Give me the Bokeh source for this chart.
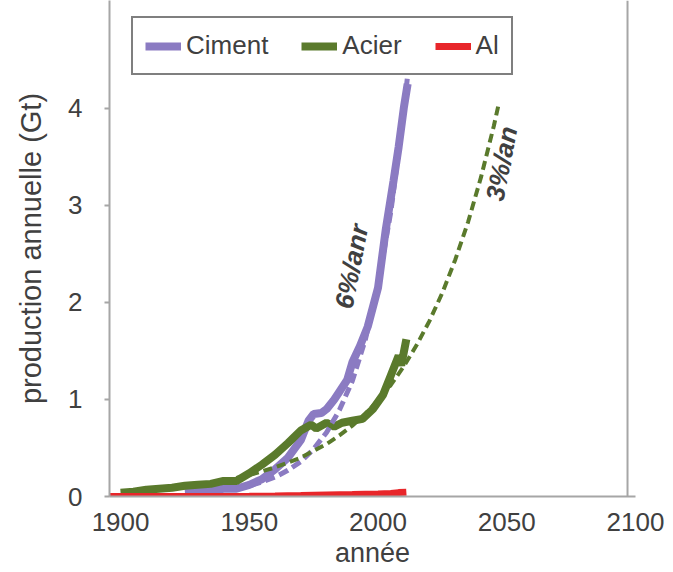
from bokeh.plotting import figure
from bokeh.models import Legend, LegendItem, Span, Range1d, FixedTicker
from bokeh.embed import file_html
from bokeh.resources import INLINE
from bokeh.core.properties import value

# ---- data ----
ciment_years = [1925, 1930, 1935, 1940, 1945, 1950, 1955, 1960, 1965, 1970, 1973, 1975, 1978,
                1980, 1983, 1985, 1988, 1990, 1993, 1996, 2000, 2003, 2006, 2008, 2010, 2011.5]
ciment_vals = [0.04, 0.05, 0.06, 0.08, 0.08, 0.12, 0.18, 0.28, 0.40, 0.58, 0.78, 0.85, 0.86,
               0.90, 1.00, 1.08, 1.20, 1.38, 1.55, 1.75, 2.15, 2.75, 3.25, 3.60, 4.00, 4.25]

acier_years = [1900, 1905, 1910, 1915, 1920, 1925, 1930, 1935, 1940, 1945, 1950, 1955, 1960,
               1965, 1970, 1974, 1976, 1980, 1983, 1986, 1990, 1994, 1998, 2002, 2005, 2008,
               2009, 2011]
acier_vals = [0.04, 0.05, 0.07, 0.08, 0.09, 0.11, 0.12, 0.13, 0.16, 0.16, 0.24, 0.33, 0.43,
              0.55, 0.68, 0.74, 0.70, 0.76, 0.72, 0.76, 0.78, 0.80, 0.90, 1.05, 1.25, 1.45,
              1.35, 1.62]

al_years = [1895, 1950, 1960, 1970, 1980, 1990, 2000, 2005, 2008, 2011]
al_vals = [0.0, 0.002, 0.005, 0.01, 0.016, 0.02, 0.025, 0.03, 0.04, 0.045]

# trend lines (dashed): 6%/an for cement, 3%/an for steel
trend6_years = [1945, 1950, 1955, 1960, 1965, 1970, 1975, 1980, 1985, 1990, 1995, 2000, 2005, 2010, 2012]
trend6_vals = [0.08, 0.11, 0.15, 0.20, 0.27, 0.36, 0.49, 0.66, 0.89, 1.19, 1.61, 2.18, 2.94, 3.96, 4.47]

trend3_years = [1945, 1950, 1955, 1960, 1965, 1970, 1975, 1980, 1985, 1990, 1995, 2000, 2005,
                2010, 2015, 2020, 2025, 2030, 2035, 2040, 2045, 2047]
trend3_vals = [0.19, 0.22, 0.26, 0.30, 0.35, 0.40, 0.47, 0.54, 0.63, 0.73, 0.85, 0.99, 1.15,
               1.34, 1.56, 1.81, 2.10, 2.44, 2.83, 3.29, 3.82, 4.06]

x_ticks = [1900, 1950, 2000, 2050, 2100]
y_ticks = [0, 1, 2, 3, 4]

# annotation texts and their anchor (year, value)
notes = ["6%/anr", "3%/an"]
note_x = [1989.7, 2048.0]
note_y = [2.37, 3.43]

PURPLE = "#8b7bc2"
GREEN = "#5a7a2c"
RED = "#e8262a"
TXT = "#404040"
AXC = "#a6a6a6"
FONT = "Liberation Sans"

p = figure(width=673, height=572, output_backend="svg", toolbar_location=None,
           x_range=Range1d(1895.7, 2100), y_range=Range1d(0, 5.11),
           min_border_left=109, min_border_right=38, min_border_top=0, min_border_bottom=76,
           background_fill_color="white", border_fill_color="white")
p.outline_line_color = None
p.grid.visible = False

r_c = p.line(ciment_years, ciment_vals, line_color=PURPLE, line_width=8)
r_a = p.line(acier_years, acier_vals, line_color=GREEN, line_width=8)
r_al = p.line(al_years, al_vals, line_color=RED, line_width=7)
p.line(trend6_years, trend6_vals, line_color=PURPLE, line_width=5, line_dash="10 5")
p.line(trend3_years, trend3_vals, line_color=GREEN, line_width=4, line_dash="9 5")

p.text(note_x, note_y, text=notes, angle=79, angle_units="deg",
       text_font=value(FONT), text_font_size="26px", text_font_style="bold italic",
       text_color=TXT, text_align="center", text_baseline="middle")

# right border of the plot area
p.add_layout(Span(location=2096.9, dimension="height", line_color=AXC, line_width=2))

for ax in (p.xaxis[0], p.yaxis[0]):
    ax.axis_line_color = AXC
    ax.axis_line_width = 2
    ax.major_label_text_font = FONT
    ax.major_label_text_font_size = "26px"
    ax.major_label_text_color = TXT
    ax.axis_label_text_font = FONT
    ax.axis_label_text_font_size = "27px"
    ax.axis_label_text_color = TXT
    ax.axis_label_text_font_style = "normal"
    ax.minor_tick_line_color = None
    ax.major_tick_line_color = AXC
    ax.major_tick_line_width = 2

p.yaxis.axis_label_text_font_size = "29px"
p.xaxis.ticker = FixedTicker(ticks=x_ticks)
p.yaxis.ticker = FixedTicker(ticks=y_ticks)
p.xaxis.axis_label = "année"
p.yaxis.axis_label = "production annuelle (Gt)"
p.xaxis.major_tick_out = 0
p.xaxis.major_tick_in = 0
p.xaxis.major_label_standoff = 16
p.xaxis.axis_label_standoff = 4
p.yaxis.major_tick_out = 5
p.yaxis.major_tick_in = 0
p.yaxis.major_label_standoff = 22
p.yaxis.axis_label_standoff = 18

legend = Legend(items=[LegendItem(label="Ciment", renderers=[r_c]),
                       LegendItem(label="Acier", renderers=[r_a]),
                       LegendItem(label="Al", renderers=[r_al])],
                orientation="horizontal", location=(22, 421),
                label_text_font=FONT, label_text_font_size="26px", label_text_color=TXT,
                glyph_width=36, glyph_height=30, label_standoff=5, spacing=33,
                padding=12, margin=0,
                border_line_color="black", border_line_width=2,
                background_fill_color="white", background_fill_alpha=1)
p.add_layout(legend, "center")

open("out.html", "w").write(file_html(p, INLINE))
